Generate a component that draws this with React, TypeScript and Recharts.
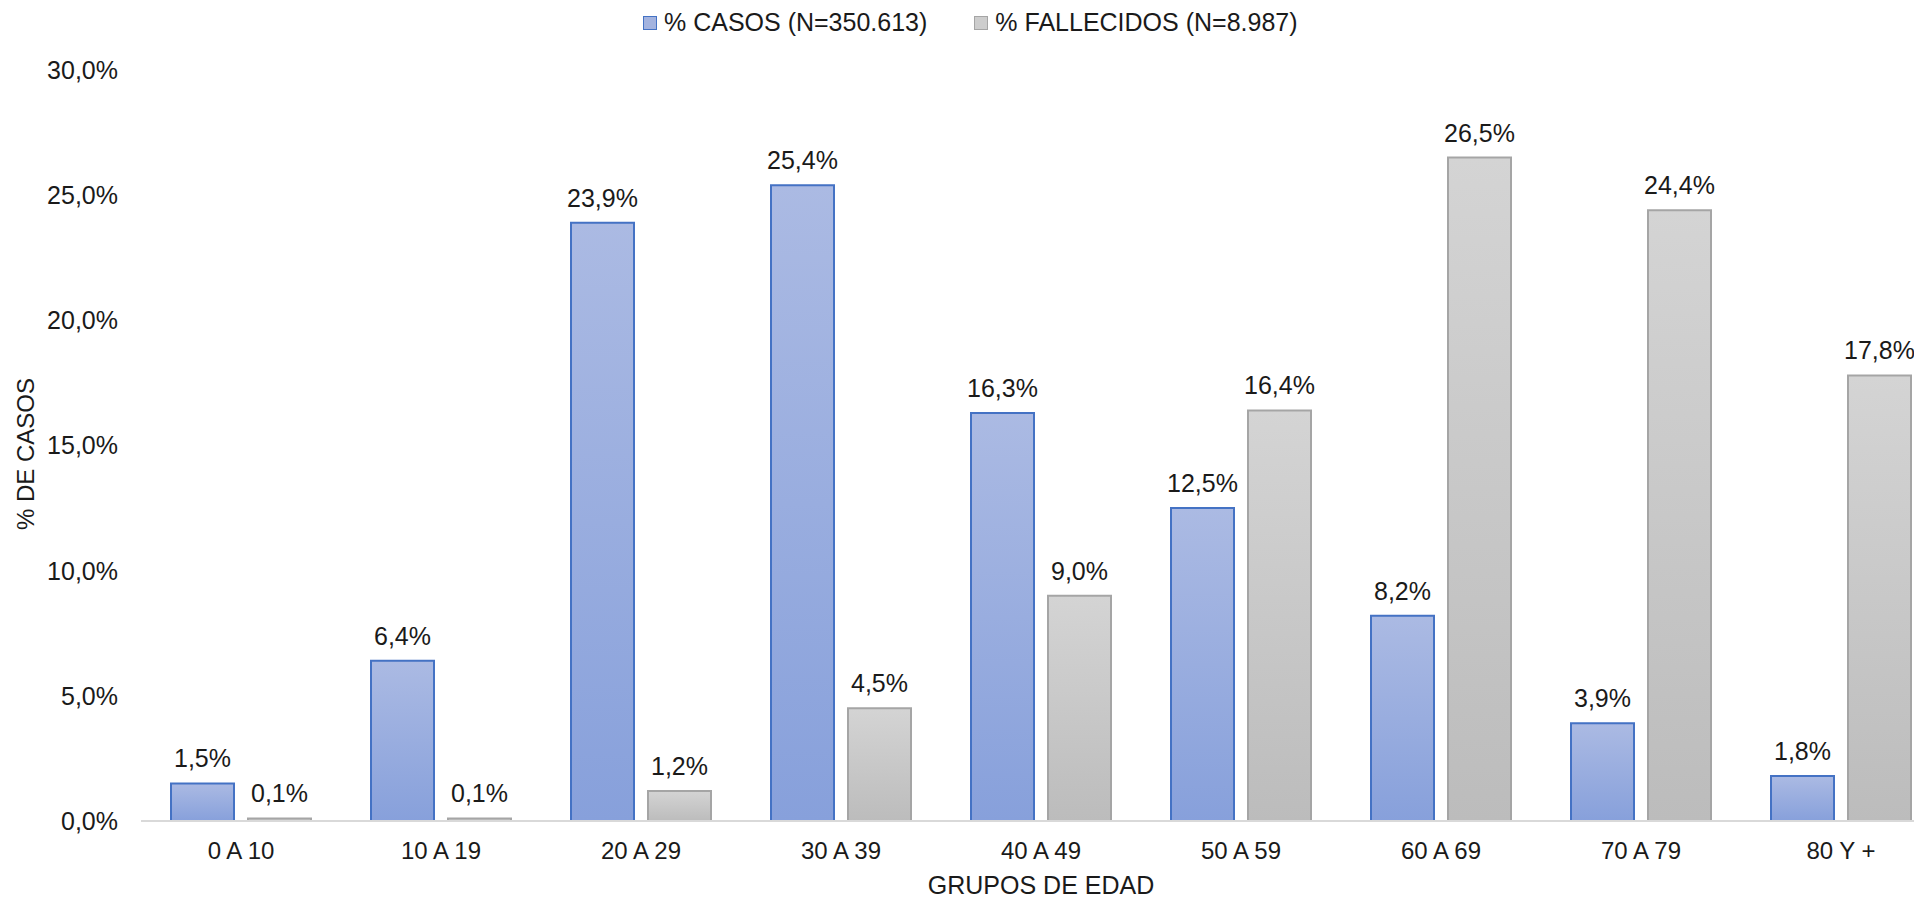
import { BarChart, Bar, XAxis, YAxis, LabelList } from 'recharts';

const grupos = ['0 A 10', '10 A 19', '20 A 29', '30 A 39', '40 A 49', '50 A 59', '60 A 69', '70 A 79', '80 Y +'];
const casos = [1.5, 6.4, 23.9, 25.4, 16.3, 12.5, 8.2, 3.9, 1.8];
const fallecidos = [0.1, 0.1, 1.2, 4.5, 9.0, 16.4, 26.5, 24.4, 17.8];
const yTicks = [0, 5, 10, 15, 20, 25, 30];

const data = grupos.map((g, i) => ({ grupo: g, casos: casos[i], fallecidos: fallecidos[i] }));

const pct = (v: any) => Number(v).toFixed(1).replace('.', ',') + '%';

const FONT = '"Liberation Sans", Arial, sans-serif';
const TXT = '#1a1a1a';

function LegendBox() {
    const item = (fill: string, stroke: string, label: string) => (
        <div style={{ display: 'flex', alignItems: 'center', marginRight: 47 }}>
            <span style={{ width: 12, height: 12, background: fill, border: `1.5px solid ${stroke}`, marginRight: 7 }} />
            <span>{label}</span>
        </div>
    );
    return (
        <div style={{ position: 'absolute', left: 643, top: 8, display: 'flex', fontFamily: FONT, fontSize: 25, color: TXT, whiteSpace: 'nowrap' }}>
            {item('#a3b3df', '#4472c4', '% CASOS (N=350.613)')}
            {item('#cdcdcd', '#a5a5a5', '% FALLECIDOS (N=8.987)')}
        </div>
    );
}

export default function App() {
    return (
        <div style={{ position: 'absolute', left: 0, top: 0, width: 1914, height: 897, overflow: 'hidden', background: '#fff' }}>
            <LegendBox />
            <BarChart
                width={1945}
                height={897}
                data={data}
                margin={{ top: 70, right: 4, bottom: 0, left: 0 }}
                barSize={63}
                barGap={14}
                style={{ fontFamily: FONT }}
            >
                <defs>
                    <linearGradient id="gBlue" x1="0" y1="0" x2="0" y2="1">
                        <stop offset="0%" stopColor="#abbae3" />
                        <stop offset="100%" stopColor="#87a0db" />
                    </linearGradient>
                    <linearGradient id="gGray" x1="0" y1="0" x2="0" y2="1">
                        <stop offset="0%" stopColor="#d4d4d4" />
                        <stop offset="100%" stopColor="#bcbcbc" />
                    </linearGradient>
                </defs>
                <XAxis
                    dataKey="grupo"
                    height={76}
                    tickSize={0}
                    tickMargin={21}
                    tickLine={false}
                    axisLine={{ stroke: '#d9d9d9', strokeWidth: 2 }}
                    tick={{ fontSize: 24, fill: TXT }}
                    interval={0}
                />
                <YAxis
                    width={141}
                    domain={[0, 30]}
                    ticks={yTicks}
                    tickFormatter={pct}
                    tickSize={0}
                    tickMargin={23}
                    tickLine={false}
                    axisLine={false}
                    tick={{ fontSize: 25, fill: TXT }}
                />
                <Bar dataKey="casos" fill="url(#gBlue)" stroke="#4472c4" strokeWidth={2} isAnimationActive={false}>
                    <LabelList dataKey="casos" position="top" offset={16} formatter={pct} style={{ fontSize: 25, fill: TXT }} />
                </Bar>
                <Bar dataKey="fallecidos" fill="url(#gGray)" stroke="#a5a5a5" strokeWidth={2} isAnimationActive={false}>
                    <LabelList dataKey="fallecidos" position="top" offset={16} formatter={pct} style={{ fontSize: 25, fill: TXT }} />
                </Bar>
            </BarChart>
            <div style={{ position: 'absolute', left: 26, top: 454, transform: 'translate(-50%, -50%) rotate(-90deg)', fontFamily: FONT, fontSize: 24, color: TXT, whiteSpace: 'nowrap' }}>
                % DE CASOS
            </div>
            <div style={{ position: 'absolute', left: 1041, top: 885, transform: 'translate(-50%, -50%)', fontFamily: FONT, fontSize: 25, color: TXT, whiteSpace: 'nowrap' }}>
                GRUPOS DE EDAD
            </div>
        </div>
    );
}
